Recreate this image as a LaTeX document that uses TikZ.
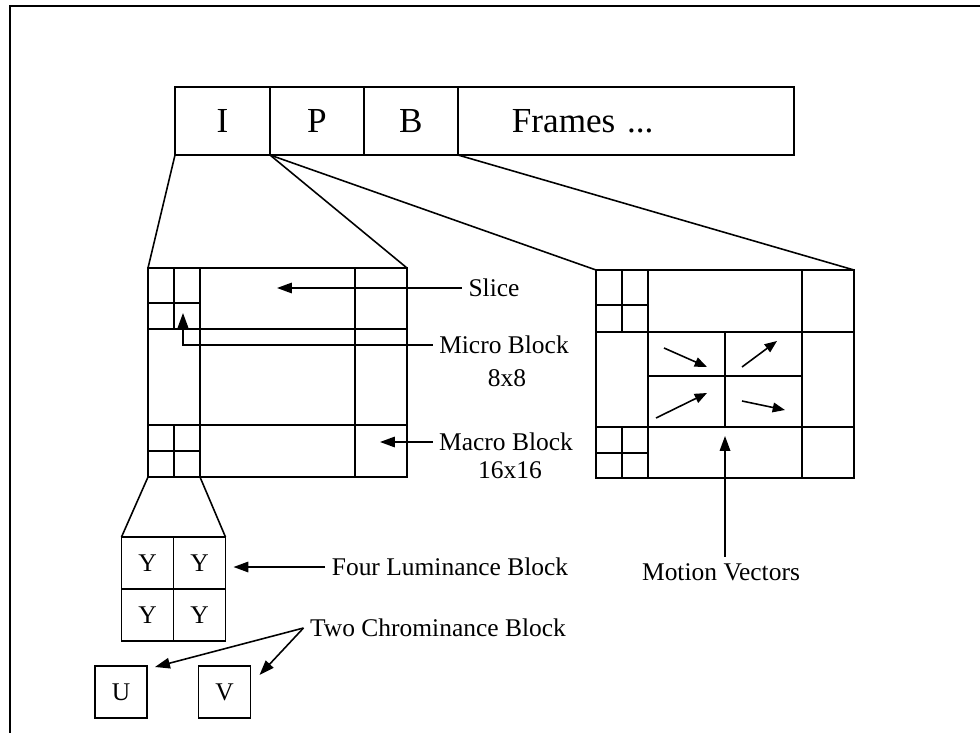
\documentclass[tikz,border=0pt]{standalone}
\usepackage{fontspec}
\setmainfont{Liberation Serif}
\usetikzlibrary{arrows.meta,positioning}
\newcommand{\lblsize}{\fontsize{14.5}{17}\selectfont}
\newcommand{\barsize}{\fontsize{20}{24}\selectfont}

\begin{document}
\begin{tikzpicture}[x=0.02cm,y=-0.02cm,line width=0.9pt,
  >={Triangle[length=8.5pt,width=6pt]},
  mv/.style={-{Triangle[length=7pt,width=5.5pt]}},
  barbox/.style={draw,minimum height=1.36cm,inner sep=0pt,outer sep=0pt,font=\barsize},
  cell/.style={draw,minimum width=1.04cm,minimum height=1.04cm,inner sep=0pt,outer sep=0pt,font=\lblsize},
  lbl/.style={font=\lblsize}]
\useasboundingbox (0,0) rectangle (980,733);
\draw (10,733) -- (10,6) -- (980,6);

\node[barbox,minimum width=1.9cm] (I) at (222.5,121) {I};
\node[barbox,minimum width=1.88cm,right=0pt of I] (P) {P};
\node[barbox,minimum width=1.88cm,right=0pt of P] (B) {B};
\node[barbox,minimum width=6.72cm,text width=4.56cm,align=left,right=0pt of B] (F) {Frames ...};

\coordinate (lfnw) at (148,268);
\coordinate (lfne) at (407,268);
\coordinate (lfsw) at (148,477);
\coordinate (lfsm) at (200,477);
\coordinate (rfnw) at (596,270);
\coordinate (rfne) at (854,270);

\draw (lfnw) rectangle (407,477);
\draw (200,268) -- (200,477) (355,268) -- (355,477);
\draw (174,268) -- (174,329) (148,303) -- (200,303) (148,329) -- (407,329);
\draw (148,425) -- (407,425) (174,425) -- (174,477) (148,451) -- (200,451);

\draw (rfnw) rectangle (854,478);
\draw (648,270) -- (648,478) (802,270) -- (802,478);
\draw (622,270) -- (622,332) (596,305) -- (648,305) (596,332) -- (854,332);
\draw (725,332) -- (725,427) (648,376) -- (802,376);
\draw (596,427) -- (854,427) (622,427) -- (622,478) (596,453) -- (648,453);

\draw (I.south west) -- (lfnw);
\draw (I.south east) -- (lfne);
\draw (P.south west) -- (rfnw);
\draw (B.south east) -- (rfne);

\node[cell] (Y1) at (147.5,563) {Y};
\node[cell,right=0pt of Y1] (Y2) {Y};
\node[cell,below=0pt of Y1] (Y3) {Y};
\node[cell,right=0pt of Y3] (Y4) {Y};
\node[cell] (U) at (121,692) {U};
\node[cell] (V) at (224.5,692) {V};
\draw (lfsw) -- (Y1.north west);
\draw (lfsm) -- (Y2.north east);

\node[lbl] (slice) at (494,288) {Slice};
\node[lbl] (micro) at (504,345) {Micro Block};
\node[lbl] (microdim) at (507,378) {8x8};
\node[lbl] (macro) at (506,442) {Macro Block};
\node[lbl] (macrodim) at (510,470) {16x16};
\node[lbl] (lum) at (450,567) {Four Luminance Block};
\node[lbl] (chroma) at (438,628) {Two Chrominance Block};
\node[lbl] (motion) at (721,572) {Motion Vectors};

\coordinate (slicetip) at (277,288);
\coordinate (microtip) at (183,313);
\coordinate (macrotip) at (380,442);
\coordinate (motiontip) at (725,436);

\draw[->] (slice.west) -- (slicetip);
\draw[->] (micro.west) -| (microtip);
\draw[->] (macro.west) -- (macrotip);
\draw[->] (lum.west) -- ([xshift=0.16cm]Y2.east |- lum.west);
\draw[->] (chroma.west) -- ([shift={(8,1)}]U.north east);
\draw[->] (chroma.west) -- ([shift={(9,9)}]V.north east);
\draw[->] (motiontip |- motion.north) -- (motiontip);

\draw[mv] (664,348) -- (707,367);
\draw[mv] (742,367) -- (777,341);
\draw[mv] (656,418) -- (707,393);
\draw[mv] (742,401) -- (785,410);
\end{tikzpicture}
\end{document}
